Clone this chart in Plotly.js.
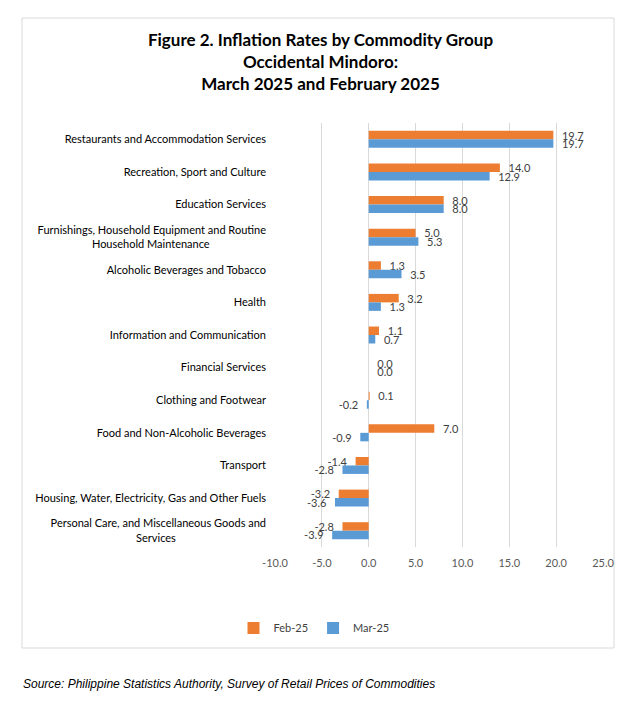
<!DOCTYPE html>
<html>
<head>
<meta charset="utf-8">
<script src="https://cdn.plot.ly/plotly-3.0.1.min.js"></script>
<style>
html,body{margin:0;padding:0;background:#fff;}
#chart{width:641px;height:702px;}
</style>
</head>
<body>
<div id="chart"></div>
<script>
const NB = "\u00A0";
const categories = [
  "Restaurants and Accommodation Services",
  "Recreation, Sport and Culture",
  "Education Services",
  "Furnishings, Household Equipment and Routine<br>Household Maintenance" + NB.repeat(20),
  "Alcoholic Beverages and Tobacco",
  "Health",
  "Information and Communication",
  "Financial Services",
  "Clothing and Footwear",
  "Food and Non-Alcoholic Beverages",
  "Transport",
  "Housing, Water, Electricity, Gas and Other Fuels",
  "Personal Care, and Miscellaneous Goods and<br>Services" + NB.repeat(32)
];
const feb25 = [19.7, 14.0, 8.0, 5.0, 1.3, 3.2, 1.1, 0.0, 0.1, 7.0, -1.4, -3.2, -2.8];
const mar25 = [19.7, 12.9, 8.0, 5.3, 3.5, 1.3, 0.7, 0.0, -0.2, -0.9, -2.8, -3.6, -3.9];
const xTicks = [-10, -5, 0, 5, 10, 15, 20, 25];

const fmt = v => v >= 0 ? NB + NB + v.toFixed(1) : v.toFixed(1) + NB + NB;
const labelFont = {family: "Lato, 'Open Sans', sans-serif", size: 11, color: "#404040"};

const traces = [
  {
    type: "bar", orientation: "h", name: "Feb-25",
    y: categories, x: feb25,
    marker: {color: "#ED7D31"},
    text: feb25.map(fmt), textposition: "outside", constraintext: "none",
    textfont: labelFont, cliponaxis: false, hoverinfo: "x+name"
  },
  {
    type: "bar", orientation: "h", name: "Mar-25",
    y: categories, x: mar25,
    marker: {color: "#5B9BD5"},
    text: mar25.map(fmt), textposition: "outside", constraintext: "none",
    textfont: labelFont, cliponaxis: false, hoverinfo: "x+name"
  }
];

const L = 275, R = 603, T = 123, B = 547;
const W = 641, H = 702;
const pw = R - L, ph = B - T;
const px = v => (v - L) / pw;
const py = v => (B - v) / ph;

const layout = {
  width: W, height: H,
  margin: {l: L, r: W - R, t: T, b: H - B, pad: 0},
  paper_bgcolor: "#ffffff", plot_bgcolor: "#ffffff",
  font: {family: "Lato, 'Open Sans', sans-serif", size: 11, color: "#404040"},
  title: {
    text: "<b>Figure 2. Inflation Rates by Commodity Group<br>Occidental Mindoro:<br>March 2025 and February 2025</b>",
    font: {family: "Lato, 'Open Sans', sans-serif", size: 17, color: "#000000"},
    x: 0.5, xref: "container", xanchor: "center",
    y: 1 - 46 / H, yref: "container", yanchor: "middle"
  },
  barmode: "group", bargap: 0.48, bargroupgap: 0,
  xaxis: {
    range: [-10, 25], tickvals: xTicks, ticktext: xTicks.map(v => v.toFixed(1)),
    showgrid: true, gridcolor: "#d9d9d9", gridwidth: 1,
    zeroline: false, showline: false, ticks: "",
    ticklabelstandoff: 8,
    tickfont: {family: "Lato, 'Open Sans', sans-serif", size: 11, color: "#595959"},
    fixedrange: true
  },
  yaxis: {
    autorange: "reversed", type: "category",
    showgrid: false, zeroline: false, showline: false, ticks: "",
    ticklabelstandoff: 8,
    tickfont: {family: "Lato, 'Open Sans', sans-serif", size: 11, color: "#000000"},
    fixedrange: true
  },
  legend: {
    orientation: "h", x: px(314), xanchor: "center",
    xref: "paper", y: py(628), yanchor: "middle",
    font: {family: "Lato, 'Open Sans', sans-serif", size: 11, color: "#404040"},
    itemwidth: 30, traceorder: "normal"
  },
  shapes: [{
    type: "rect", xref: "paper", yref: "paper",
    x0: px(22), x1: px(614), y0: py(648), y1: py(18),
    line: {color: "#d9d9d9", width: 1}, fillcolor: "rgba(0,0,0,0)", layer: "below"
  }],
  annotations: [{
    xref: "paper", yref: "paper", x: px(21), y: py(684),
    xanchor: "left", yanchor: "middle", showarrow: false,
    text: "<i>Source: Philippine Statistics Authority, Survey of Retail Prices of Commodities</i>",
    font: {family: "'Liberation Sans', Arial, sans-serif", size: 12, color: "#000000"}
  }]
};

Plotly.newPlot("chart", traces, layout, {displayModeBar: false, staticPlot: true});
</script>
</body>
</html>
